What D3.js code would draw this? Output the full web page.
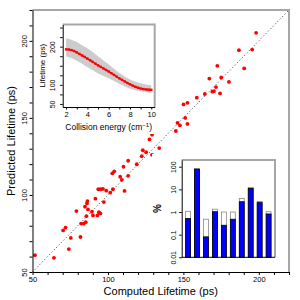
<!DOCTYPE html>
<html lang="en">
<head>
<meta charset="UTF-8">
<title>Lifetime scatter</title>
<script src="https://d3js.org/d3.v7.min.js"></script>
<style>
  body, html { margin: 0; padding: 0; background: #fff; }
  svg text { font-family: "Liberation Sans", Arial, sans-serif; fill: #000; }
</style>
</head>
<body>
<svg id="svg" width="300" height="300"></svg>
<script>
// main scatter: computed vs predicted lifetime (ps)
const computed = [51.6, 64.2, 74.1, 75.4, 70.3, 71.9, 79.1, 81.8, 82.2, 84, 85.3, 84.8, 85.7, 86.1, 86.4,
  86.8, 89.4, 90.1, 91.7, 93, 94, 95, 93.6, 95.2, 96.7, 97.3, 98.9, 101.5, 103.3, 102.9, 104.2, 108.1,
  109.2, 111, 110.3, 113.4, 113.4, 119.1, 122.4, 123.1, 125.3, 127.5, 129.2, 134, 145, 146.1, 147.7,
  151.2, 152.7, 150.1, 152.7, 158.9, 164.2, 169.2, 170.3, 171.6, 174.3, 167.2, 175.1, 180.2, 172.5,
  190.3, 186.8, 195.6, 198.2, 129.2];
const predicted = [60.9, 59.2, 64.9, 72.1, 77, 78.8, 89.5, 72.7, 81.4, 81.4, 82.3, 92.4, 86.2, 94.5, 96,
  90.6, 89.1, 86.7, 97.6, 86.7, 88.8, 88, 103.7, 103.7, 103.9, 95.4, 102.8, 101.5, 103.7, 114, 115.3, 111.8,
  109.8, 102.6, 118.3, 112.4, 122.2, 119.9, 125.1, 129, 127.7, 136, 139.1, 130.4, 141.5, 146.7, 145.2,
  150, 146.1, 158.7, 159.8, 163.1, 165.5, 167, 167.4, 170, 165.9, 175.5, 176.2, 173.3, 183.8,
  182.1, 193.9, 194.3, 205.2, 126];
const mainTicks = [50, 100, 150, 200];

// inset 1: lifetime vs collision energy
const energy = [2, 2.25, 2.5, 2.75, 3, 3.25, 3.5, 3.75, 4, 4.25, 4.5, 4.75, 5, 5.25, 5.5, 5.75, 6,
  6.25, 6.5, 6.75, 7, 7.25, 7.5, 7.75, 8, 8.25, 8.5, 8.75, 9, 9.25, 9.5, 9.75, 10];
const lifetime = [193, 192.5, 191, 188.5, 185, 181, 177, 173, 168.5, 164.5, 160, 155.5, 151, 147, 143,
  139, 135, 130.5, 126, 121.5, 117, 113, 109, 105, 101.5, 98, 95, 92.5, 90.5, 89, 88, 87.5, 87];
const bandEnergy = [2, 2.5, 3, 3.5, 4, 4.5, 5, 5.5, 6, 6.5, 7, 7.5, 8, 8.5, 9, 9.5, 10];
const bandUpper = [222, 218, 212, 204, 196, 186, 175, 164, 153, 142, 131, 122, 114, 108, 104, 101, 99];
const bandLower = [174, 170, 163, 155, 146, 138, 130, 123, 117, 110, 103, 96, 90, 86, 83, 81, 79];
const energyLabels = [2, 4, 6, 8, 10];
const lifeLabels = [50, 100, 200];

// inset 2: percentages per bin (log scale)
const bins = d3.range(10);
const pctBlue = [0.52, 79, 0.08, 1.03, 0.26, 0.48, 2.85, 11, 2.6, 0.82];
const pctWhite = [1.07, 80, 0.48, 1.33, 1.0, 1.0, 4.0, 12, 2.95, 1.03];
const pctTicks = [0.01, 0.1, 1, 10, 100];

const svg = d3.select("#svg");
const grey = "#a6a6a6";

// ---------- main plot ----------
const x = d3.scaleLinear([50, 220], [32.5, 289]);
const y = d3.scaleLinear([50, 220], [272, 10]);

svg.append("line")
  .attr("x1", x(50)).attr("y1", y(50)).attr("x2", x(220)).attr("y2", y(220))
  .attr("stroke", "#555").attr("stroke-width", 1).attr("stroke-dasharray", "1.2,2.2");

svg.append("g").selectAll("circle")
  .data(computed)
  .join("circle")
  .attr("cx", d => x(d))
  .attr("cy", (d, i) => y(predicted[i]))
  .attr("r", 1.9)
  .attr("fill", "#ff0000");

// grey box on top and right
svg.append("path")
  .attr("d", `M${x(50)},${y(220)}H${x(220)}V${y(50)}`)
  .attr("fill", "none").attr("stroke", grey).attr("stroke-width", 2);

const fmtMain = d => mainTicks.includes(d) ? d : "";
const xAxis = svg.append("g")
  .attr("transform", `translate(0,${y(50)})`)
  .call(d3.axisBottom(x).tickValues(d3.range(50, 221, 10)).tickFormat(fmtMain).tickSize(3).tickSizeOuter(0));
xAxis.selectAll("text").attr("y", 5).attr("dy", "0.71em").style("font-size", "7.5px");

const yAxis = svg.append("g")
  .attr("transform", `translate(${x(50)},0)`)
  .call(d3.axisLeft(y).tickValues(d3.range(50, 221, 10)).tickFormat(fmtMain).tickSize(3).tickSizeOuter(0));
yAxis.selectAll("text")
  .attr("transform", "rotate(-90)").attr("x", 0).attr("y", -5.5).attr("dy", 0)
  .attr("text-anchor", "middle").style("font-size", "7.5px");

svg.selectAll(".domain").attr("stroke", "#000");

svg.append("text")
  .attr("x", (x(50) + x(220)) / 2).attr("y", 294.5)
  .attr("text-anchor", "middle").style("font-size", "11px")
  .text("Computed Lifetime (ps)");
svg.append("text")
  .attr("transform", `translate(14.5,${(y(50) + y(220)) / 2}) rotate(-90)`)
  .attr("text-anchor", "middle").style("font-size", "11px")
  .text("Predicted Lifetime (ps)");

// ---------- inset 1 ----------
const ix = d3.scaleLinear([1.68, 10.32], [62.7, 154.7]);
const iy = d3.scaleLinear([42, 258], [107, 24.5]);
const inset1 = svg.append("g");

inset1.append("rect")
  .attr("x", 35).attr("y", 13).attr("width", 125).attr("height", 121).attr("fill", "#fff");

const band = d3.area()
  .x((d, i) => ix(bandEnergy[i]))
  .y0((d, i) => iy(bandLower[i]))
  .y1((d, i) => iy(bandUpper[i]));
inset1.append("path").datum(bandEnergy).attr("d", band).attr("fill", "#cccccc");

const curve = d3.line().x((d, i) => ix(energy[i])).y((d, i) => iy(lifetime[i]));
inset1.append("path").datum(energy).attr("d", curve)
  .attr("fill", "none").attr("stroke", "#ff0000").attr("stroke-width", 1.6);
inset1.append("g").selectAll("rect")
  .data(energy)
  .join("rect")
  .attr("x", d => ix(d) - 1.2)
  .attr("y", (d, i) => iy(lifetime[i]) - 1.2)
  .attr("width", 2.4).attr("height", 2.4)
  .attr("fill", "#ff0000");

inset1.append("path")
  .attr("d", `M${ix(1.68)},${iy(258)}H${ix(10.32)}V${iy(42)}`)
  .attr("fill", "none").attr("stroke", grey).attr("stroke-width", 2);

const ixAxis = inset1.append("g")
  .attr("transform", `translate(0,${iy(42)})`)
  .call(d3.axisBottom(ix).tickValues(d3.range(2, 11, 1))
    .tickFormat(d => energyLabels.includes(d) ? d : "").tickSize(2.5).tickSizeOuter(0));
ixAxis.selectAll("text").attr("y", 5).attr("dy", "0.71em").style("font-size", "7.5px");

const iyAxis = inset1.append("g")
  .attr("transform", `translate(${ix(1.68)},0)`)
  .call(d3.axisLeft(iy).tickValues(d3.range(50, 251, 25))
    .tickFormat(d => lifeLabels.includes(d) ? d : "").tickSize(2.5).tickSizeOuter(0));
iyAxis.selectAll("text")
  .attr("transform", "rotate(-90)").attr("x", 0).attr("y", -8).attr("dy", 0)
  .attr("text-anchor", "middle").style("font-size", "7px");
inset1.selectAll(".domain").attr("stroke", "#000");

const ixTitle = inset1.append("text")
  .attr("x", (ix(1.68) + ix(10.32)) / 2).attr("y", 129.5)
  .attr("text-anchor", "middle").style("font-size", "8.5px");
ixTitle.append("tspan").text("Collision energy (cm");
ixTitle.append("tspan").attr("dy", -3).style("font-size", "6px").text("\u22121");
ixTitle.append("tspan").attr("dy", 3).text(")");

inset1.append("text")
  .attr("transform", `translate(44.5,${(iy(42) + iy(258)) / 2}) rotate(-90)`)
  .attr("text-anchor", "middle").style("font-size", "8px")
  .text("Lifetime (ps)");

// ---------- inset 2 ----------
const bx = d3.scaleBand(bins, [181.7, 275]).paddingInner(0.45).paddingOuter(0.44);
const by = d3.scaleLog([0.01, 198], [257.3, 160]);
const inset2 = svg.append("g");

inset2.append("rect")
  .attr("x", 152).attr("y", 154).attr("width", 133).attr("height", 112).attr("fill", "#fff");

inset2.append("g").selectAll("rect")
  .data(bins)
  .join("rect")
  .attr("x", d => bx(d))
  .attr("y", d => by(pctWhite[d]))
  .attr("width", bx.bandwidth())
  .attr("height", d => by(0.01) - by(pctWhite[d]))
  .attr("fill", "#fff").attr("stroke", "#888").attr("stroke-width", 0.8);

inset2.append("g").selectAll("rect")
  .data(bins)
  .join("rect")
  .attr("x", d => bx(d))
  .attr("y", d => by(pctBlue[d]))
  .attr("width", bx.bandwidth())
  .attr("height", d => by(0.01) - by(pctBlue[d]))
  .attr("fill", "#0000ff").attr("stroke", "#000").attr("stroke-width", 0.8);

inset2.append("path")
  .attr("d", `M181.7,160H275V257.3`)
  .attr("fill", "none").attr("stroke", grey).attr("stroke-width", 2);
inset2.append("line")
  .attr("x1", 181.7).attr("x2", 275).attr("y1", 257.3).attr("y2", 257.3)
  .attr("stroke", "#000");

const byAxis = inset2.append("g")
  .attr("transform", "translate(181.7,0)")
  .call(d3.axisLeft(by).tickValues(pctTicks).tickFormat(d => d).tickSize(2.5).tickSizeOuter(0));
byAxis.selectAll("text")
  .attr("transform", "rotate(-90)").attr("x", 0).attr("y", -6).attr("dy", 0)
  .attr("text-anchor", "middle").style("font-size", "7px");
byAxis.select(".domain").attr("stroke", "#000");

inset2.append("text")
  .attr("transform", `translate(161,${(by(0.01) + by(198)) / 2}) rotate(-90)`)
  .attr("text-anchor", "middle").style("font-size", "10px").style("font-weight", "bold")
  .text("%");
</script>
</body>
</html>
